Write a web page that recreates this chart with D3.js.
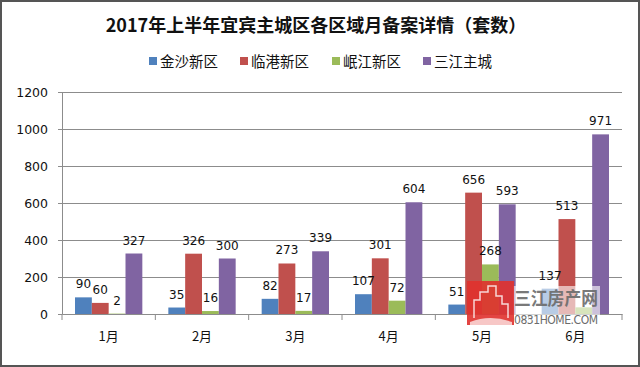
<!DOCTYPE html>
<html><head><meta charset="utf-8">
<script src="https://cdn.jsdelivr.net/npm/d3@7/dist/d3.min.js"></script>
<style>html,body{margin:0;padding:0;background:#fff;}svg{display:block;}</style>
</head><body>
<svg id="c" width="640" height="367"></svg>
<script>
const title = "2017年上半年宜宾主城区各区域月备案详情（套数）";
const months = ["1月","2月","3月","4月","5月","6月"];
const seriesNames = ["金沙新区","临港新区","岷江新区","三江主城"];
const jinsha = [90,35,82,107,51,137];
const lingang = [60,326,273,301,656,513];
const minjiang = [2,16,17,72,268,36];
const sanjiang = [327,300,339,604,593,971];
const yTicks = [0,200,400,600,800,1000,1200];
const colors = ["#4F81BD","#C0504D","#9BBB59","#8064A2"];
const seriesValues = [jinsha,lingang,minjiang,sanjiang];
// label hidden under the site watermark in the original picture
const hiddenLabel = {month:"6月", series:"岷江新区"};

const svg = d3.select("#c");
const font = "'DejaVu Sans', Verdana, sans-serif";
const cjk = "'Noto Sans CJK SC', sans-serif";

// frame
svg.append("rect").attr("x",1).attr("y",1).attr("width",638).attr("height",365)
  .attr("fill","#fff").attr("stroke","#555").attr("stroke-width",2);

const x0 = d3.scaleBand().domain(months).range([62,622]).paddingInner(0).paddingOuter(0);
const x1 = d3.scaleBand().domain(seriesNames).range([13, x0.bandwidth()-13]).padding(0);
const y = d3.scaleLinear().domain([0,1200]).range([314,92]);

// gridlines
svg.append("g").selectAll("line").data(yTicks.slice(1)).join("line")
  .attr("x1",62).attr("x2",622).attr("y1",d=>y(d)).attr("y2",d=>y(d))
  .attr("stroke","#8c8c8c").attr("stroke-width",1).attr("shape-rendering","crispEdges");

// y axis
const yAxis = svg.append("g").attr("transform","translate(62,0)")
  .call(d3.axisLeft(y).tickValues(yTicks).tickFormat(d3.format("d")).tickSize(4).tickPadding(10));
yAxis.select(".domain").attr("stroke","#8c8c8c");
yAxis.selectAll(".tick line").attr("stroke","#8c8c8c");
yAxis.selectAll("text").attr("font-family",font).attr("font-size",12.5).attr("fill","#111");

// bars
const groups = svg.append("g").selectAll("g").data(months).join("g")
  .attr("transform",d=>`translate(${x0(d)},0)`);
groups.selectAll("rect").data((m,i)=>seriesNames.map((s,j)=>({m,s,j,v:seriesValues[j][i]}))).join("rect")
  .attr("x",d=>x1(d.s)).attr("width",x1.bandwidth())
  .attr("y",d=>y(d.v)).attr("height",d=>y(0)-y(d.v))
  .attr("fill",d=>colors[d.j]);
groups.selectAll("text")
  .data((m,i)=>seriesNames.map((s,j)=>({m,s,j,v:seriesValues[j][i]}))
    .filter(d=>!(d.m===hiddenLabel.month && d.s===hiddenLabel.series)))
  .join("text")
  .attr("x",d=>x1(d.s)+x1.bandwidth()/2).attr("y",d=>y(d.v)-9)
  .attr("text-anchor","middle").attr("font-family",font).attr("font-size",12).attr("fill","#111")
  .text(d=>d.v);

// x axis
const xAxis = svg.append("g").attr("transform","translate(0,314)")
  .call(d3.axisBottom(x0).tickSize(0).tickPadding(18));
xAxis.select(".domain").attr("stroke","#8c8c8c");
xAxis.selectAll("text").attr("font-family",cjk).attr("font-size",13).attr("fill","#111");
svg.append("g").selectAll("line").data(d3.range(months.length+1)).join("line")
  .attr("x1",i=>62+i*x0.bandwidth()).attr("x2",i=>62+i*x0.bandwidth())
  .attr("y1",314).attr("y2",320).attr("stroke","#8c8c8c");

// title
svg.append("text").attr("x",316).attr("y",32).attr("text-anchor","middle")
  .attr("font-family",cjk).attr("font-weight","bold").attr("font-size",18).attr("fill","#111")
  .text(title);

// legend
const legX = [149,240,332,423];
const leg = svg.append("g").selectAll("g").data(seriesNames).join("g")
  .attr("transform",(d,i)=>`translate(${legX[i]},61)`);
leg.append("rect").attr("x",0).attr("y",-4).attr("width",8).attr("height",8).attr("fill",(d,i)=>colors[i]);
leg.append("text").attr("x",11).attr("y",5.5).attr("font-family",cjk).attr("font-size",14.5).attr("fill","#111").text(d=>d);

// watermark
const wm = svg.append("g");
wm.append("rect").attr("x",513).attr("y",286).attr("width",87).attr("height",41).attr("fill","#fff").attr("opacity",0.6);
wm.append("rect").attr("x",467).attr("y",281).attr("width",47).attr("height",44).attr("fill","#e0312e").attr("opacity",0.9);
wm.append("path").attr("d","M474,318 L474,300 L480,300 L480,292 L488,292 L488,286 L496,286 L496,296 L502,296 L502,304 L508,304 L508,318")
  .attr("fill","none").attr("stroke","#fff").attr("stroke-width",1.5).attr("opacity",0.8);
wm.append("path").attr("d","M470,322 Q490,314 512,322 L512,326 L470,326 Z").attr("fill","#fff").attr("opacity",0.7);
wm.append("text").attr("x",514).attr("y",305).attr("font-family",cjk).attr("font-weight","bold").attr("font-size",18)
  .attr("fill","#6b6b6b").attr("opacity",0.9).attr("textLength",84).attr("lengthAdjust","spacingAndGlyphs").text("三江房产网");
wm.append("text").attr("x",514).attr("y",324).attr("font-family","'Liberation Sans Narrow','DejaVu Sans Condensed',sans-serif").attr("font-size",12)
  .attr("fill","#6b6b6b").attr("textLength",84).text("0831HOME.COM");
</script>
</body></html>
